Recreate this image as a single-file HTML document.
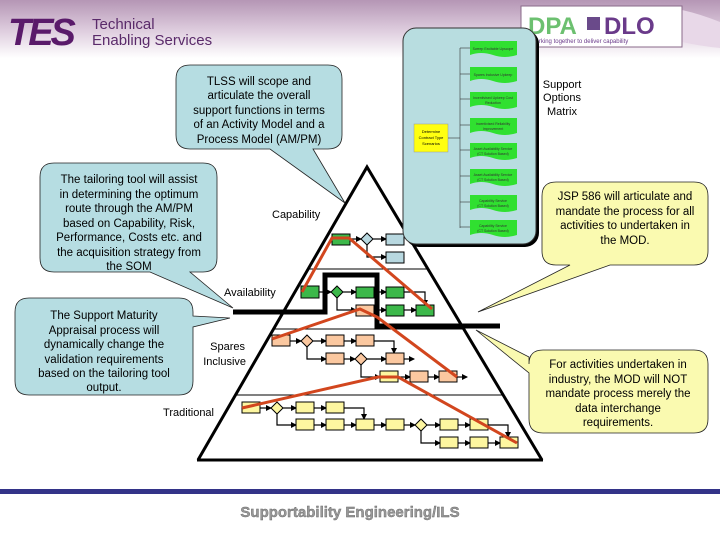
<!DOCTYPE html>
<html><head><meta charset="utf-8"><style>
html,body{margin:0;padding:0;background:#fff}
svg{display:block}
text{font-family:"Liberation Sans",sans-serif}
</style></head><body>
<svg width="720" height="540" viewBox="0 0 720 540" xmlns="http://www.w3.org/2000/svg">
<defs>
<linearGradient id="hdr" x1="0" y1="0" x2="0" y2="1">
<stop offset="0" stop-color="#b596b5"/><stop offset="0.5" stop-color="#dccadc"/><stop offset="1" stop-color="#ffffff"/>
</linearGradient>
<marker id="ar" markerWidth="6" markerHeight="6" refX="5" refY="3" orient="auto" markerUnits="userSpaceOnUse"><path d="M0,0 L6,3 L0,6z" fill="#000"/></marker>
</defs>
<rect x="0" y="0" width="720" height="58" fill="url(#hdr)"/>
<path d="M682,10 Q700,14 720,22 L720,48 Q700,46 682,42z" fill="#e8d8e8"/>
<text x="8" y="45" font-size="38" font-weight="bold" fill="#5a1a6a" font-style="italic" letter-spacing="-3">TES</text>
<text x="92" y="29" font-size="15" fill="#5a2a6a">Technical</text>
<text x="92" y="45" font-size="15" fill="#5a2a6a">Enabling Services</text>
<rect x="521" y="6" width="161" height="41" fill="#fff" stroke="#8a6a8a" stroke-width="1"/>
<text x="528" y="34" font-size="24" font-weight="bold" fill="#6cc070">DPA</text>
<rect x="587" y="17" width="13" height="13" fill="#6a4a8a"/>
<text x="604" y="34" font-size="24" font-weight="bold" fill="#6a3a8a">DLO</text>
<text x="530" y="43" font-size="6" fill="#6a3a8a">Working together to deliver capability</text>

<line x1="235" y1="395" x2="503" y2="395" stroke="#000" stroke-width="1"/>
<line x1="274" y1="329" x2="464" y2="329" stroke="#000" stroke-width="1"/>
<line x1="308" y1="269" x2="428" y2="269" stroke="#000" stroke-width="1"/>
<polyline points="198,460 367,167 542,460" fill="none" stroke="#000" stroke-width="3"/>
<line x1="197" y1="460" x2="543" y2="460" stroke="#000" stroke-width="3"/>

<polyline points="233,312 325,312 325,275 377,275 377,326 500,326" fill="none" stroke="#000" stroke-width="5"/>

<g stroke="#000" stroke-width="1.2" fill="none" marker-end="url(#ar)">
<line x1="350" y1="239" x2="361" y2="239"/><line x1="373" y1="239" x2="386" y2="239"/>
<polyline points="367,245 367,257 386,257"/>
<line x1="319" y1="292" x2="331" y2="292"/><line x1="343" y1="292" x2="356" y2="292"/><line x1="374" y1="292" x2="386" y2="292"/>
<polyline points="404,292 425,292 425,305"/>
<polyline points="337,298 337,310 356,310"/>
<line x1="374" y1="310" x2="386" y2="310"/><line x1="404" y1="310" x2="416" y2="310"/>
<line x1="290" y1="341" x2="301" y2="341"/><line x1="313" y1="341" x2="326" y2="341"/><line x1="344" y1="341" x2="356" y2="341"/>
<polyline points="374,341 394,341 394,353"/>
<polyline points="307,347 307,359 326,359"/>
<line x1="344" y1="359" x2="355" y2="359"/><line x1="367" y1="359" x2="386" y2="359"/><line x1="404" y1="359" x2="414" y2="359"/>
<polyline points="361,365 361,377 380,377"/>
<line x1="398" y1="377" x2="410" y2="377"/><line x1="428" y1="377" x2="439" y2="377"/><line x1="457" y1="377" x2="467" y2="377"/>
<line x1="260" y1="408" x2="271" y2="408"/><line x1="283" y1="408" x2="296" y2="408"/><line x1="314" y1="408" x2="326" y2="408"/>
<polyline points="344,408 364,408 364,419"/>
<polyline points="277,413 277,425 296,425"/>
<line x1="314" y1="425" x2="326" y2="425"/><line x1="344" y1="425" x2="356" y2="425"/><line x1="374" y1="425" x2="386" y2="425"/><line x1="404" y1="425" x2="415" y2="425"/>
<line x1="427" y1="425" x2="440" y2="425"/><line x1="458" y1="425" x2="470" y2="425"/>
<polyline points="488,425 508,425 508,437"/>
<polyline points="421,430 421,443 440,443"/>
<line x1="458" y1="443" x2="470" y2="443"/><line x1="488" y1="443" x2="500" y2="443"/>
</g>

<g stroke="#000" stroke-width="1">
<g fill="#3cb84a">
<rect x="332" y="234" width="18" height="11"/>
<rect x="301" y="286" width="18" height="12"/><rect x="356" y="287" width="18" height="11"/><rect x="386" y="287" width="18" height="11"/>
<rect x="386" y="305" width="18" height="11"/><rect x="416" y="305" width="18" height="11"/>
<path d="M337,286 L343,292 L337,298 L331,292z"/>
</g>
<g fill="#b8d8e0"><rect x="386" y="234" width="18" height="11"/><rect x="386" y="252" width="18" height="11"/>
<path d="M367,233 L373,239 L367,245 L361,239z"/></g>
<g fill="#fbc8a0">
<rect x="356" y="305" width="18" height="11"/>
<rect x="272" y="335" width="18" height="11"/><rect x="326" y="335" width="18" height="11"/><rect x="356" y="335" width="18" height="11"/>
<rect x="326" y="353" width="18" height="11"/><rect x="386" y="353" width="18" height="11"/>
<rect x="410" y="371" width="18" height="11"/><rect x="439" y="371" width="18" height="11"/>
<path d="M307,335 L313,341 L307,347 L301,341z"/><path d="M361,353 L367,359 L361,365 L355,359z"/>
</g>
<g fill="#fdf6a0">
<rect x="380" y="371" width="18" height="11"/>
<rect x="242" y="402" width="18" height="11"/><rect x="296" y="402" width="18" height="11"/><rect x="326" y="402" width="18" height="11"/>
<rect x="296" y="419" width="18" height="11"/><rect x="326" y="419" width="18" height="11"/><rect x="356" y="419" width="18" height="11"/><rect x="386" y="419" width="18" height="11"/>
<rect x="440" y="419" width="18" height="11"/><rect x="470" y="419" width="18" height="11"/>
<rect x="440" y="437" width="18" height="11"/><rect x="470" y="437" width="18" height="11"/><rect x="500" y="437" width="18" height="11"/>
<path d="M277,402 L283,408 L277,414 L271,408z"/><path d="M421,419 L427,425 L421,431 L415,425z"/>
</g>
</g>

<g stroke="#d2461e" stroke-width="3" fill="none">
<polyline points="302,292 332,238 349,238 432,309"/>
<polyline points="272,339 360,309 377,317 457,377"/>
<polyline points="242,408 378,377 398,377 517,443"/>
</g>

<g font-size="11" fill="#000">
<text x="272" y="218">Capability</text>
<text x="224" y="296">Availability</text>
<text x="245" y="350" text-anchor="end">Spares</text>
<text x="246" y="365" text-anchor="end">Inclusive</text>
<text x="214" y="416" text-anchor="end">Traditional</text>
<text x="562" y="88" text-anchor="middle">Support</text>
<text x="562" y="101" text-anchor="middle">Options</text>
<text x="562" y="115" text-anchor="middle">Matrix</text>
</g>

<rect x="405" y="30" width="134" height="217" rx="14" fill="#000"/>
<rect x="403" y="28" width="133" height="216" rx="13" fill="#b8dde0" stroke="#333" stroke-width="1"/>
<rect x="414" y="124" width="34" height="28" fill="#ffff10" stroke="#999" stroke-width="0.5"/>
<text x="431" y="133" font-size="4" text-anchor="middle">Determine</text>
<text x="431" y="139" font-size="4" text-anchor="middle">Contract Type</text>
<text x="431" y="145" font-size="4" text-anchor="middle">Scenarios</text>
<line x1="448" y1="138" x2="460" y2="138" stroke="#333" stroke-width="0.6"/>
<line x1="460" y1="48" x2="460" y2="228" stroke="#333" stroke-width="0.6"/>
<g fill="#30e030">
<path d="M470,41 h47 v14 q-12,4 -24,0 q-12,-4 -23,0z"/>
<path d="M470,67 h47 v14 q-12,4 -24,0 q-12,-4 -23,0z"/>
<path d="M470,92 h47 v15 q-12,4 -24,0 q-12,-4 -23,0z"/>
<path d="M470,118 h47 v15 q-12,4 -24,0 q-12,-4 -23,0z"/>
<path d="M470,143 h47 v15 q-12,4 -24,0 q-12,-4 -23,0z"/>
<path d="M470,169 h47 v15 q-12,4 -24,0 q-12,-4 -23,0z"/>
<path d="M470,195 h47 v15 q-12,4 -24,0 q-12,-4 -23,0z"/>
<path d="M470,220 h47 v15 q-12,4 -24,0 q-12,-4 -23,0z"/>
</g>
<g stroke="#333" stroke-width="0.6">
<line x1="460" y1="48" x2="470" y2="48"/><line x1="460" y1="74" x2="470" y2="74"/><line x1="460" y1="99" x2="470" y2="99"/><line x1="460" y1="125" x2="470" y2="125"/>
<line x1="460" y1="150" x2="470" y2="150"/><line x1="460" y1="176" x2="470" y2="176"/><line x1="460" y1="202" x2="470" y2="202"/><line x1="460" y1="227" x2="470" y2="227"/>
</g>
<g font-size="3.5" fill="#333" text-anchor="middle">
<text x="493" y="50">Sweep Excitable Upscope</text>
<text x="493" y="76">Spares Inclusive Upkeep</text>
<text x="493" y="99">Incentivised Upkeep Cost</text><text x="493" y="104">Reduction</text>
<text x="493" y="125">Incentivised Reliability</text><text x="493" y="130">Improvement</text>
<text x="493" y="150">Asset Availability Service</text><text x="493" y="155">(CT Solution Based)</text>
<text x="493" y="176">Asset Availability Service</text><text x="493" y="181">(CT Solution Based)</text>
<text x="493" y="202">Capability Service</text><text x="493" y="207">(CT Solution Based)</text>
<text x="493" y="227">Capability Service</text><text x="493" y="232">(CT Solution Based)</text>
</g>

<g fill="#b6dde2" stroke="#222" stroke-width="0.8">
<path d="M190,65 H328 Q342,65 342,79 V135 Q342,149 328,149 H313 L345,203 L270,149 H190 Q176,149 176,135 V79 Q176,65 190,65z"/>
<path d="M54,163 H203 Q217,163 217,177 V258 Q217,272 203,272 H190 L233,308 L150,272 H54 Q40,272 40,258 V177 Q40,163 54,163z"/>
<path d="M29,298 H179 Q193,298 193,312 V316 L230,318 L193,327 V381 Q193,395 179,395 H29 Q15,395 15,381 V312 Q15,298 29,298z"/>
</g>
<g fill="#fafab0" stroke="#222" stroke-width="0.8">
<path d="M556,182 H694 Q708,182 708,196 V251 Q708,265 694,265 H610 L478,312 L570,265 H556 Q542,265 542,251 V196 Q542,182 556,182z"/>
<path d="M543,350 H694 Q708,350 708,364 V419 Q708,433 694,433 H543 Q529,433 529,419 V373 L476,330 L529,357 V364 Q529,350 543,350z"/>
</g>
<g font-size="11.5" fill="#000" text-anchor="middle">
<text x="259" y="85">TLSS will scope and</text>
<text x="259" y="99">articulate the overall</text>
<text x="259" y="114">support functions in terms</text>
<text x="259" y="128">of an Activity Model and a</text>
<text x="259" y="143">Process Model (AM/PM)</text>
<text x="129" y="183">The tailoring tool will assist</text>
<text x="129" y="198">in determining the optimum</text>
<text x="129" y="212">route through the AM/PM</text>
<text x="129" y="227">based on Capability, Risk,</text>
<text x="129" y="241">Performance, Costs etc. and</text>
<text x="129" y="256">the acquisition strategy from</text>
<text x="129" y="270">the SOM</text>
<text x="104" y="319">The Support Maturity</text>
<text x="104" y="334">Appraisal process will</text>
<text x="104" y="348">dynamically change the</text>
<text x="104" y="363">validation requirements</text>
<text x="104" y="377">based on the tailoring tool</text>
<text x="104" y="391">output.</text>
<text x="625" y="200">JSP 586 will articulate and</text>
<text x="625" y="215">mandate the process for all</text>
<text x="625" y="229">activities to undertaken in</text>
<text x="625" y="244">the MOD.</text>
<text x="618" y="368">For activities undertaken in</text>
<text x="618" y="383">industry, the MOD will NOT</text>
<text x="618" y="397">mandate process merely the</text>
<text x="618" y="412">data interchange</text>
<text x="618" y="426">requirements.</text>
</g>

<rect x="0" y="489" width="720" height="5" fill="#333388"/>
<text x="350" y="517" font-size="15" font-weight="bold" fill="#999" stroke="#666" stroke-width="0.4" text-anchor="middle">Supportability Engineering/ILS</text>
</svg>
</body></html>
